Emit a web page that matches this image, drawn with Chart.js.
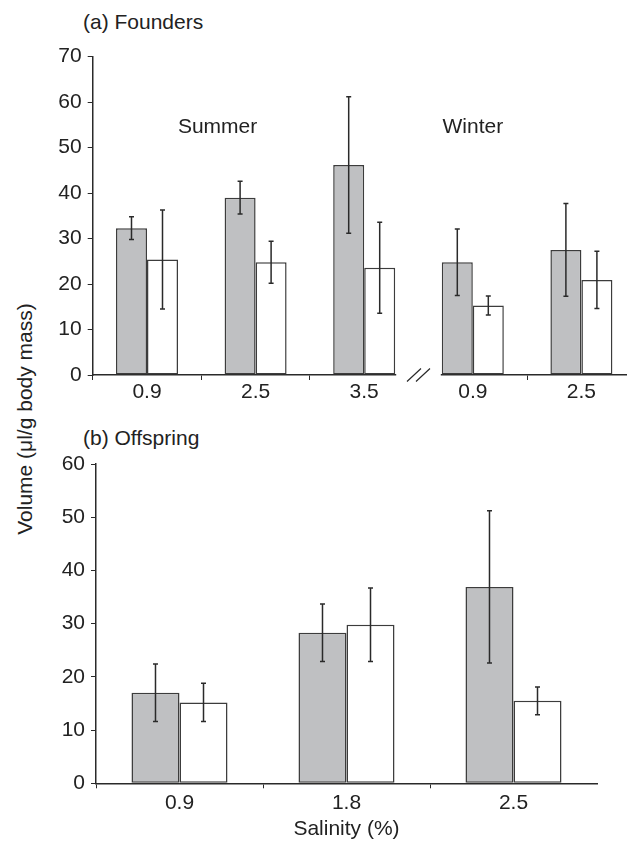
<!DOCTYPE html>
<html>
<head>
<meta charset="utf-8">
<script src="https://cdn.jsdelivr.net/npm/chart.js@4.4.1/dist/chart.umd.min.js"></script>
<style>
html, body { margin: 0; padding: 0; background: #fff; overflow: hidden; width: 627px; height: 842px; }
#wrap { position: relative; width: 627px; height: 842px; overflow: hidden; font-family: "Liberation Sans", Arial, sans-serif; color: #222; }
canvas { position: absolute; left: 0; }
#founders { top: 0; }
#offspring { top: 420px; }
.panel { position: absolute; left: 83px; font-size: 21px; line-height: 1; white-space: nowrap; }
#ytitle { position: absolute; left: 23.5px; top: 419px; transform: translate(-50%, -50%) rotate(-90deg); white-space: nowrap; font-size: 21px; line-height: 1; }
</style>
</head>
<body>
<div id="wrap">
  <div class="panel" style="top:10.5px">(a) Founders</div>
  <div class="panel" style="top:426.5px">(b) Offspring</div>
  <div id="ytitle">Volume (μl/g body mass)</div>
  <canvas id="founders" width="650" height="405"></canvas>
  <canvas id="offspring" width="627" height="422"></canvas>
</div>
<script>
// (a) Founders: summer salinities then winter salinities
const foundersLabels = ['0.9', '2.5', '3.5', '0.9', '2.5'];
const foundersGrey = [32.3, 39.0, 46.2, 24.8, 27.5];
const foundersGreyErr = [2.5, 3.6, 15.0, 7.3, 10.2];
const foundersWhite = [25.4, 24.8, 23.6, 15.3, 20.9];
const foundersWhiteErr = [10.9, 4.6, 10.0, 2.1, 6.3];

// (b) Offspring
const offspringLabels = ['0.9', '1.8', '2.5'];
const offspringGrey = [17.0, 28.3, 36.9];
const offspringGreyErr = [5.4, 5.4, 14.3];
const offspringWhite = [15.2, 29.8, 15.5];
const offspringWhiteErr = [3.6, 6.9, 2.6];

const INK = '#2a2a2a';
const GREY = '#bfc0c2';
const BORDER = '#3c3c3c';

Chart.defaults.font.family = '"Liberation Sans", Arial, sans-serif';
Chart.defaults.font.size = 21;
Chart.defaults.color = '#222';

// draws the mean +/- error whiskers on top of each bar
const errorBars = {
    id: 'errorBars',
    afterDatasetsDraw(chart) {
        const ctx = chart.ctx;
        const y = chart.scales.y;
        ctx.save();
        ctx.strokeStyle = INK;
        ctx.lineWidth = 1.5;
        chart.data.datasets.forEach(function(ds, di) {
            const meta = chart.getDatasetMeta(di);
            meta.data.forEach(function(bar, i) {
                const m = ds.data[i], e = ds.errors[i];
                const top = y.getPixelForValue(m + e);
                const bot = y.getPixelForValue(m - e);
                ctx.beginPath();
                ctx.moveTo(bar.x, top); ctx.lineTo(bar.x, bot);
                ctx.moveTo(bar.x - 2.5, top); ctx.lineTo(bar.x + 2.5, top);
                ctx.moveTo(bar.x - 2.5, bot); ctx.lineTo(bar.x + 2.5, bot);
                ctx.stroke();
            });
        });
        ctx.restore();
    }
};

// season labels and the axis break for panel (a)
const foundersExtras = {
    id: 'foundersExtras',
    afterDraw(chart) {
        const ctx = chart.ctx;
        const x = chart.scales.x, y = chart.scales.y;
        ctx.save();
        ctx.fillStyle = '#222';
        ctx.font = '21px "Liberation Sans", Arial, sans-serif';
        ctx.textAlign = 'center';
        ctx.textBaseline = 'middle';
        ctx.fillText('Summer', x.getPixelForValue(0.65), y.getPixelForValue(54.6));
        ctx.fillText('Winter', x.getPixelForValue(3), y.getPixelForValue(54.6));

        // gap in the axis between summer and winter groups
        const left = chart.getDatasetMeta(1).data[2];
        const right = chart.getDatasetMeta(0).data[3];
        const x0 = left.x + left.width / 2 + 1;
        const x1 = right.x - right.width / 2 - 1;
        const y0 = y.getPixelForValue(0);
        ctx.fillStyle = '#fff';
        ctx.fillRect(x0, y0 - 2, x1 - x0, 4);
        const bx = x.getPixelForValue(2.5);
        ctx.strokeStyle = INK;
        ctx.lineWidth = 1.2;
        ctx.beginPath();
        [-4.5, 4.5].forEach(function(d) {
            ctx.moveTo(bx + d - 7, y0 + 6.5);
            ctx.lineTo(bx + d + 7, y0 - 6.5);
        });
        ctx.stroke();
        ctx.restore();
    }
};

function makeChart(id, labels, grey, greyErr, white, whiteErr, opts) {
    return new Chart(document.getElementById(id), {
        type: 'bar',
        data: {
            labels: labels,
            datasets: [{
                data: grey,
                errors: greyErr,
                backgroundColor: GREY,
                borderColor: BORDER,
                borderWidth: 1.5,
                borderSkipped: false
            }, {
                data: white,
                errors: whiteErr,
                backgroundColor: '#ffffff',
                borderColor: BORDER,
                borderWidth: 1.5,
                borderSkipped: false
            }]
        },
        options: {
            responsive: false,
            animation: false,
            categoryPercentage: opts.catPct,
            barPercentage: 1.0,
            layout: { padding: opts.padding },
            plugins: { legend: { display: false }, tooltip: { enabled: false } },
            scales: {
                x: {
                    grid: {
                        offset: true,
                        drawOnChartArea: false,
                        drawTicks: true,
                        tickLength: 5,
                        color: function(c) { return opts.hideTick === c.index ? 'rgba(0,0,0,0)' : INK; }
                    },
                    border: { display: true, color: INK, width: 1.5 },
                    ticks: { padding: opts.xPad, color: '#222', maxRotation: 0 },
                    title: opts.xTitle ? { display: true, text: opts.xTitle, color: '#222', padding: { top: 0, bottom: 0 } } : { display: false },
                    afterFit: function(s) { s.height = opts.xHeight; }
                },
                y: {
                    min: 0,
                    max: opts.yMax,
                    ticks: { stepSize: 10, padding: 6, color: '#222' },
                    grid: { drawOnChartArea: false, drawTicks: true, tickLength: 5, color: INK },
                    border: { display: true, color: INK, width: 1.5 },
                    afterFit: function(s) { s.width = opts.yWidth; }
                }
            }
        },
        plugins: opts.plugins
    });
}

makeChart('founders', foundersLabels, foundersGrey, foundersGreyErr, foundersWhite, foundersWhiteErr, {
    catPct: 0.571,
    padding: { top: 56.7, left: 0, right: 14.3, bottom: 0 },
    xHeight: 30,
    xPad: 0,
    yWidth: 92.7,
    yMax: 70,
    hideTick: 3,
    plugins: [errorBars, foundersExtras]
});

makeChart('offspring', offspringLabels, offspringGrey, offspringGreyErr, offspringWhite, offspringWhiteErr, {
    catPct: 0.575,
    padding: { top: 44, left: 0, right: 30, bottom: 0 },
    xHeight: 58.7,
    xPad: 2,
    yWidth: 96,
    yMax: 60,
    xTitle: 'Salinity (%)',
    plugins: [errorBars]
});
</script>
</body>
</html>
